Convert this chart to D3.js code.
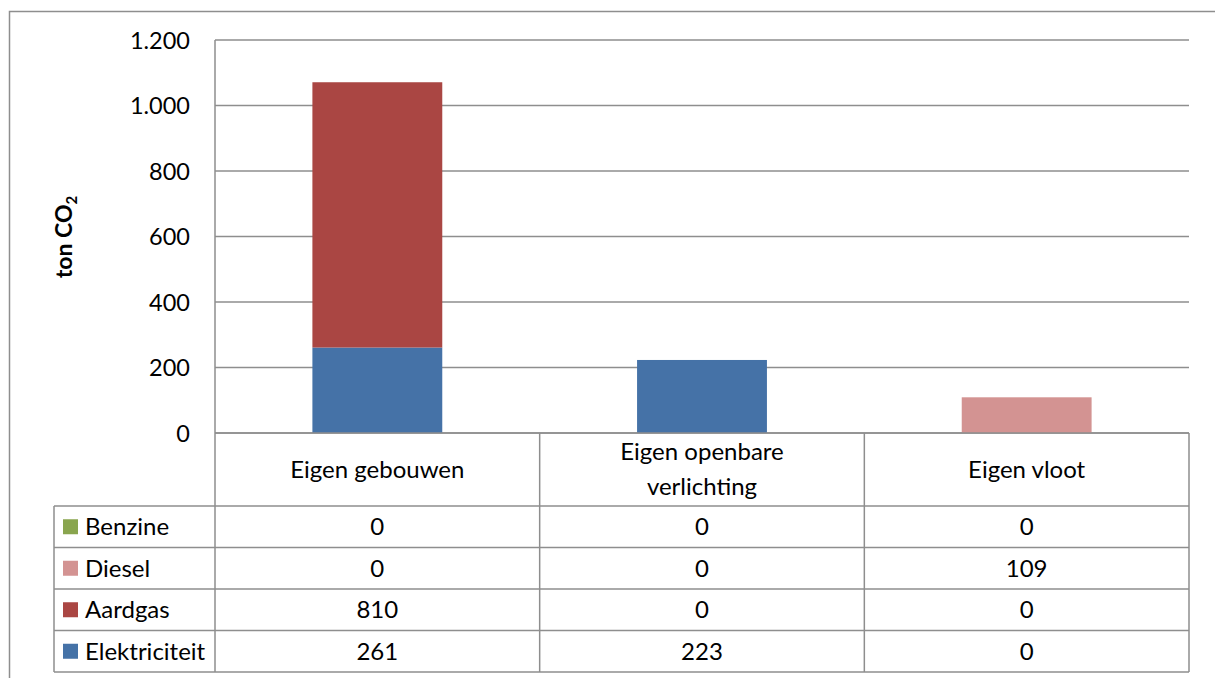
<!DOCTYPE html>
<html>
<head>
<meta charset="utf-8">
<script src="https://cdn.jsdelivr.net/npm/d3@7"></script>
<style>
  html, body { margin: 0; padding: 0; background: #fff; }
  svg { display: block; font-family: Lato, "Open Sans", sans-serif; }
</style>
</head>
<body>
<svg id="chart" width="1215" height="678"></svg>
<script>
// Emissions per sector, ton CO2
const categories = ["Eigen gebouwen", "Eigen openbare verlichting", "Eigen vloot"];
const categoryLines = [["Eigen gebouwen"], ["Eigen openbare", "verlichting"], ["Eigen vloot"]];
// stacked bottom-to-top
const seriesNames = ["Elektriciteit", "Aardgas", "Diesel", "Benzine"];
const elektriciteit = [261, 223, 0];
const aardgas = [810, 0, 0];
const diesel = [0, 0, 109];
const benzine = [0, 0, 0];
const yTicks = [0, 200, 400, 600, 800, 1000, 1200];
const seriesColors = ["#4572A7", "#AA4643", "#D39392", "#89A54E"];

const seriesValues = [elektriciteit, aardgas, diesel, benzine];
const rows = categories.map((c, i) => {
  const r = { category: c };
  seriesNames.forEach((s, k) => { r[s] = seriesValues[k][i]; });
  return r;
});

const svg = d3.select("#chart");
const gridColor = "#8e8e8e";
const textSize = 24;

const plotLeft = 215, plotRight = 1189, plotTop = 40, plotBase = 433;
const rowH = 41.5, headerBottom = 506, tableLeft = 54;

// outer chart frame
svg.append("rect")
  .attr("x", 9.5).attr("y", 11.5)
  .attr("width", 1230).attr("height", 700)
  .attr("fill", "none").attr("stroke", gridColor).attr("stroke-width", 1.5);

const y = d3.scaleLinear().domain([0, 1200]).range([plotBase, plotTop]);
const col = d3.scaleBand().domain(categories).range([plotLeft, plotRight]).padding(0);
const xBar = d3.scaleBand().domain(categories).range([plotLeft, plotRight])
  .paddingInner(0.6).paddingOuter(0.3);

const nl = d3.formatLocale({ decimal: ",", thousands: ".", grouping: [3], currency: ["€", ""] });
const fmt = nl.format(",d");

// gridlines + value axis labels
const yAxis = d3.axisLeft(y).tickValues(yTicks).tickSize(0).tickPadding(25).tickFormat(fmt);
const ga = svg.append("g").attr("transform", `translate(${plotLeft},0)`).call(yAxis);
ga.select(".domain").remove();
ga.selectAll("text").attr("font-size", 23.5).attr("fill", "#000")
  .attr("font-family", "Lato, sans-serif").attr("dy", "0.35em");

svg.append("g").selectAll("line").data(yTicks).join("line")
  .attr("x1", plotLeft).attr("x2", plotRight)
  .attr("y1", d => y(d)).attr("y2", d => y(d))
  .attr("stroke", gridColor).attr("stroke-width", 1.5);

// stacked bars
const stack = d3.stack().keys(seriesNames)(rows);
svg.append("g").selectAll("g").data(stack).join("g")
  .attr("fill", (d, i) => seriesColors[i])
  .selectAll("rect").data(d => d.filter(p => p[1] > p[0])).join("rect")
  .attr("x", d => xBar(d.data.category))
  .attr("width", xBar.bandwidth())
  .attr("y", d => y(d[1]))
  .attr("height", d => y(d[0]) - y(d[1]));

// data table
const tbl = svg.append("g").attr("stroke", gridColor).attr("stroke-width", 1.5).attr("fill", "none");
const tableBottom = headerBottom + rowH * 4;
// vertical lines
tbl.append("line").attr("x1", plotLeft).attr("x2", plotLeft).attr("y1", plotTop).attr("y2", tableBottom);
categories.forEach(c => {
  const xr = col(c) + col.bandwidth();
  tbl.append("line").attr("x1", xr).attr("x2", xr).attr("y1", plotBase).attr("y2", tableBottom);
});
tbl.append("line").attr("x1", tableLeft).attr("x2", tableLeft).attr("y1", headerBottom).attr("y2", tableBottom);
// horizontal lines
tbl.append("line").attr("x1", plotLeft).attr("x2", plotRight).attr("y1", plotBase).attr("y2", plotBase);
for (let r = 0; r <= 4; r++) {
  const yy = headerBottom + r * rowH;
  tbl.append("line").attr("x1", tableLeft).attr("x2", plotRight).attr("y1", yy).attr("y2", yy);
}

// header labels
const head = svg.append("g").attr("font-size", textSize).attr("fill", "#000").attr("text-anchor", "middle");
categories.forEach((c, i) => {
  const lines = categoryLines[i];
  const cx = col(c) + col.bandwidth() / 2;
  const cy = (plotBase + headerBottom) / 2;
  const lh = 35;
  lines.forEach((ln, j) => {
    head.append("text")
      .attr("x", cx)
      .attr("y", cy + (j - (lines.length - 1) / 2) * lh)
      .attr("dy", "0.35em")
      .text(ln);
  });
});

// table rows: legend key + values (top row is the last stacked series)
const tableOrder = seriesNames.map((s, k) => k).reverse();
tableOrder.forEach((k, r) => {
  const cy = headerBottom + r * rowH + rowH / 2;
  svg.append("rect")
    .attr("x", 63).attr("y", cy - 7.5).attr("width", 15).attr("height", 15)
    .attr("fill", seriesColors[k]);
  svg.append("text")
    .attr("x", 85).attr("y", cy).attr("dy", "0.35em")
    .attr("font-size", textSize).attr("fill", "#000")
    .text(seriesNames[k]);
  categories.forEach((c, i) => {
    svg.append("text")
      .attr("x", col(c) + col.bandwidth() / 2).attr("y", cy).attr("dy", "0.35em")
      .attr("text-anchor", "middle").attr("font-size", textSize).attr("fill", "#000")
      .text(fmt(seriesValues[k][i]));
  });
});

// value axis title
const yt = svg.append("text")
  .attr("transform", "translate(72,237) rotate(-90)")
  .attr("text-anchor", "middle").attr("font-weight", "bold").attr("font-size", 23).attr("fill", "#000");
yt.append("tspan").text("ton CO");
yt.append("tspan").attr("font-size", 15).attr("dy", 5).text("2");
</script>
</body>
</html>
